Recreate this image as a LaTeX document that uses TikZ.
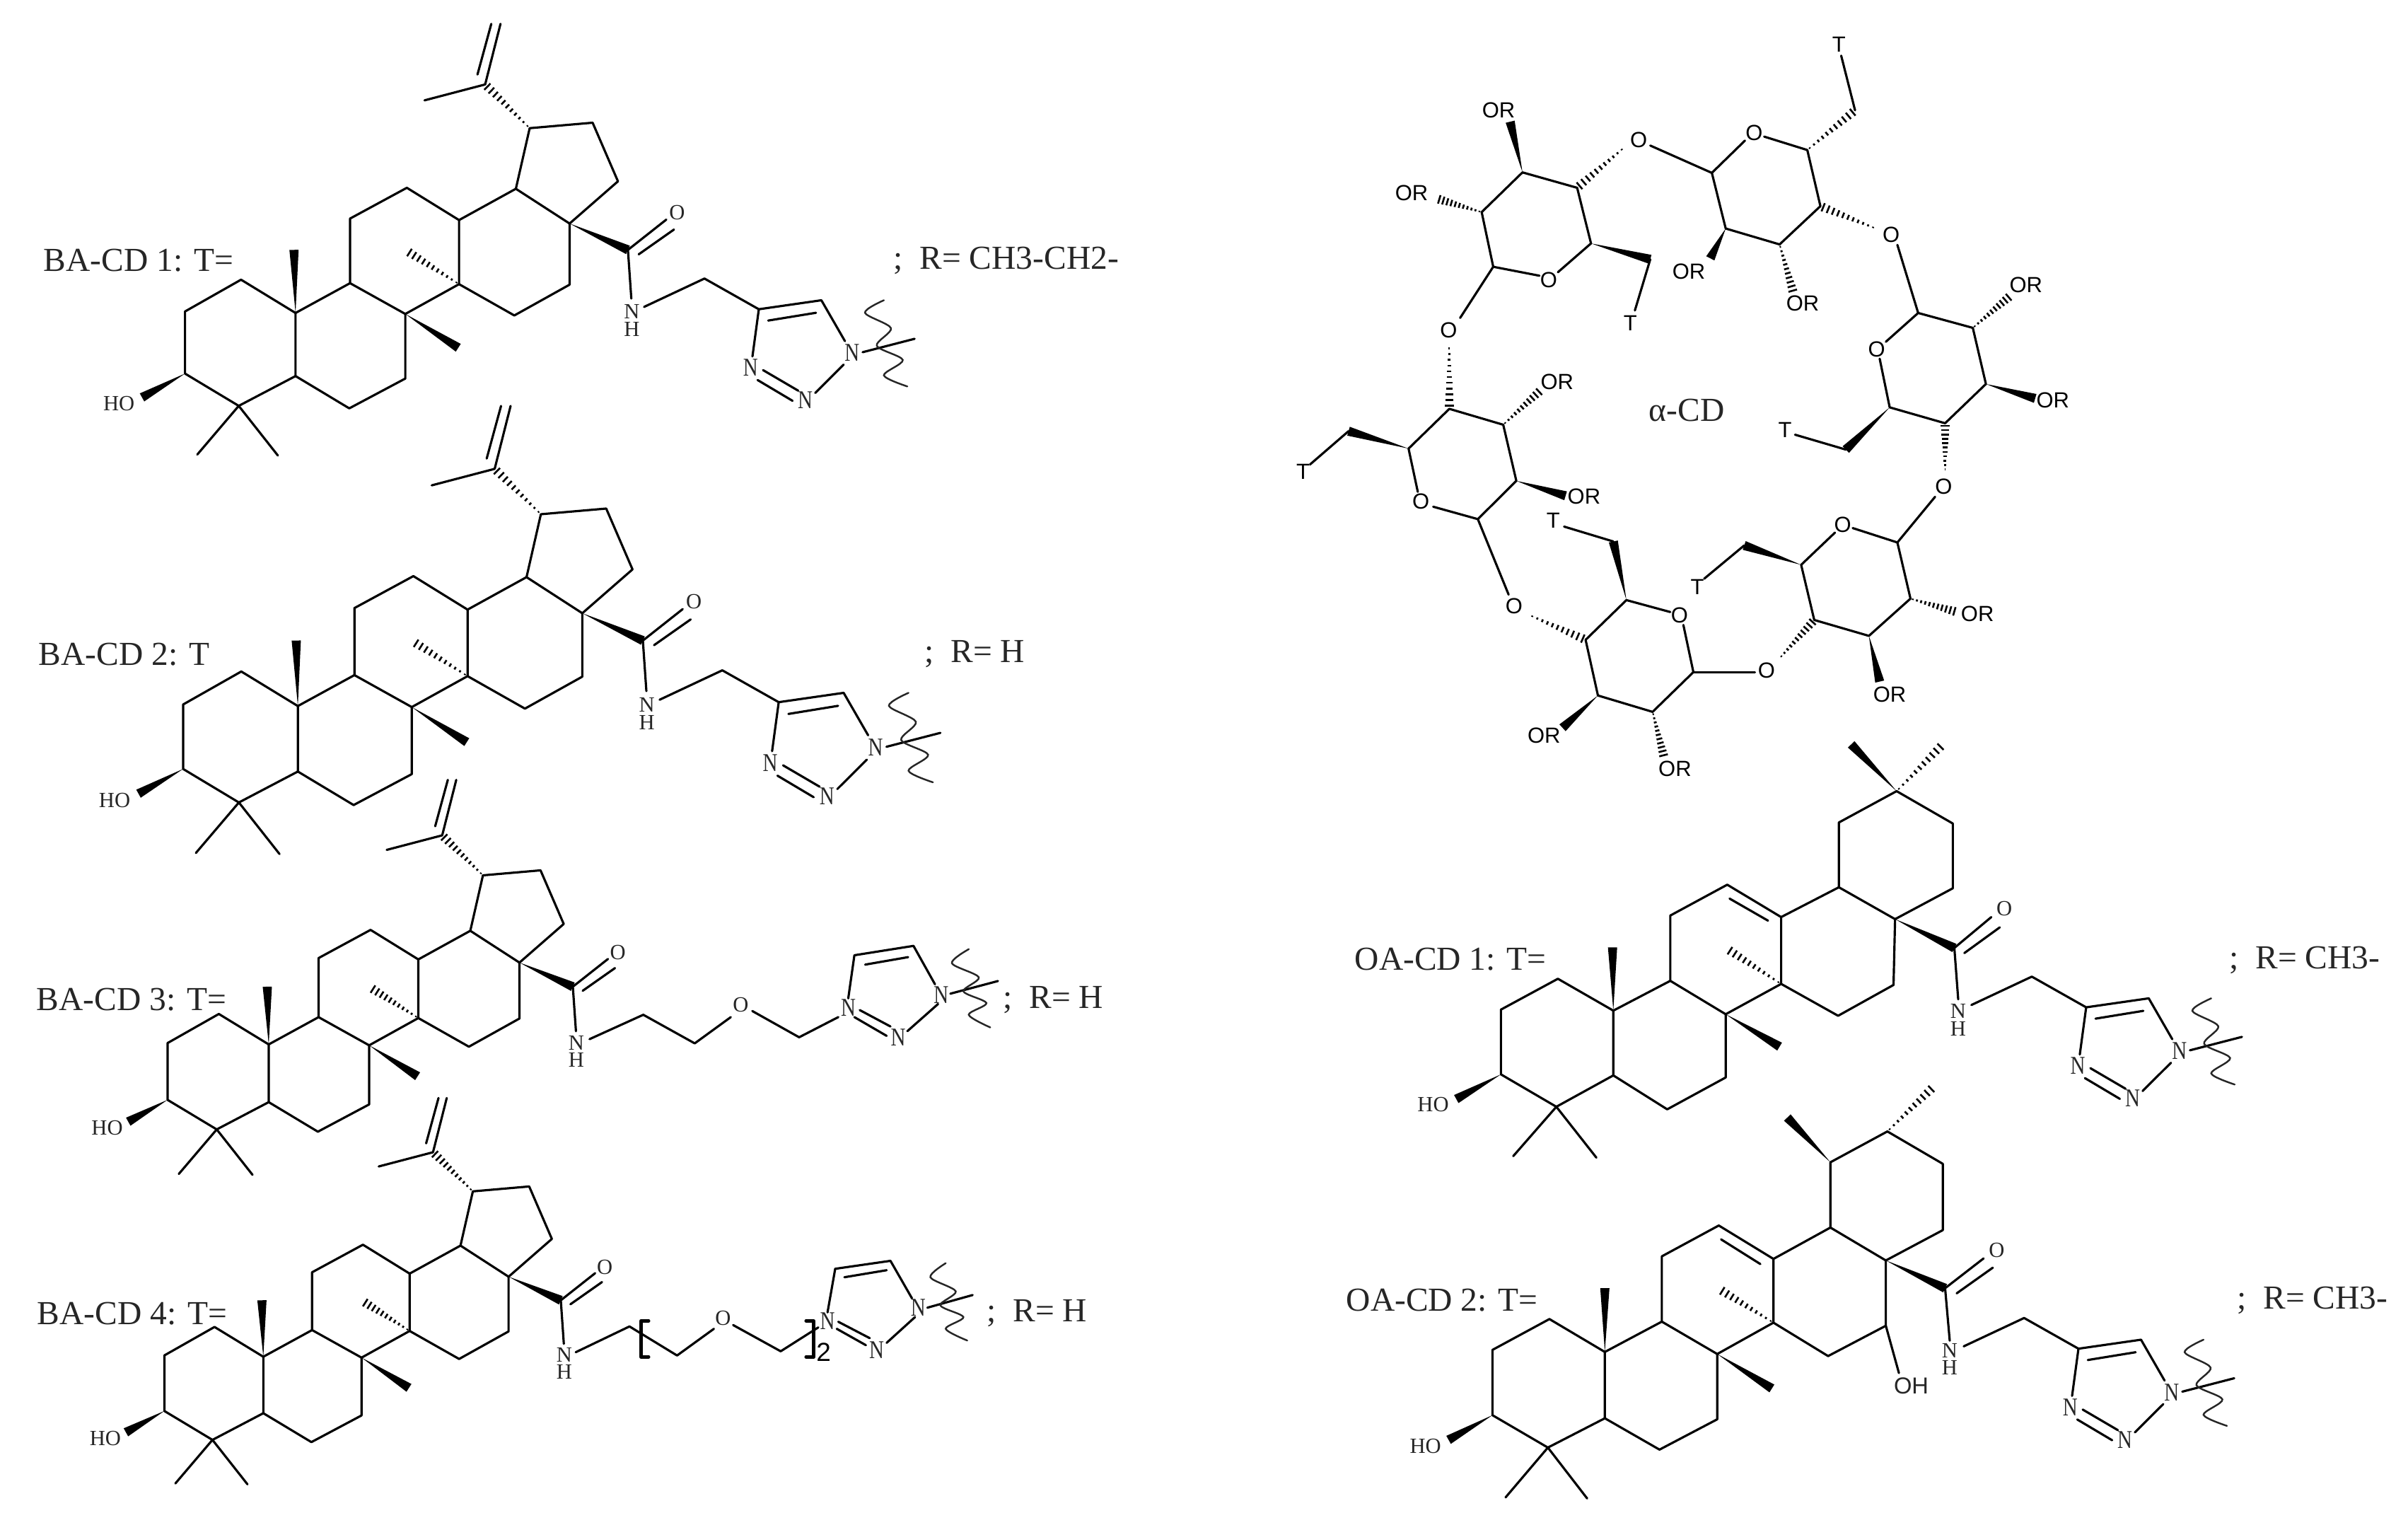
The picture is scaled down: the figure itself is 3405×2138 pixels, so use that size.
\documentclass[tikz,border=0pt]{standalone}
\usepackage{fontspec}
\usepackage{graphicx}
\setmainfont{Liberation Serif}
\newfontfamily\libsans{Liberation Sans}
\usetikzlibrary{calc}
\newcounter{nc}
\tikzset{
  bond/.style={line width=0.9pt,line cap=round,line join=round,draw=black},
  thinbond/.style={line width=0.7pt,line cap=round,draw=black!85},
  hashline/.style={line width=0.75pt,draw=black},
  atm/.style={inner sep=0pt,font=\fontsize{8.7}{6.9}\selectfont,text=black!85},
  sug/.style={inner sep=0pt,font=\libsans\fontsize{8.8}{10}\selectfont,text=black},
  lab/.style={inner sep=0pt,anchor=west,font=\fontsize{13.5}{15}\selectfont,text=black!85},
  zone/.style={x=0.010842cm,y=-0.007015cm},
  ztwo/.style={x=0.010874cm,y=-0.007015cm},
  zthree/.style={x=0.010842cm,y=-0.00662cm},
  zfour/.style={x=0.010874cm,y=-0.007258cm},
}
\def\wedgew{0.065cm}
\newcommand{\wdg}[2]{\fill[black] (#1) -- ($(#2)!\wedgew!90:(#1)$) -- ($(#2)!\wedgew!-90:(#1)$) -- cycle;}
\newcommand{\hsh}[2]{\foreach \hf in {0.05,0.14,...,0.97}{%
  \coordinate (hp) at ($(#1)!\hf!(#2)$);
  \draw[hashline] ($(hp)!{(0.1+0.9*\hf)*0.065cm}!90:(#2)$) -- ($(hp)!{(0.1+0.9*\hf)*0.065cm}!-90:(#2)$);}}
\newcommand{\atm}[2]{\stepcounter{nc}\node[atm] (at\arabic{nc}) at (#1) {#2};}
\newcommand{\nh}[1]{\stepcounter{nc}\node[atm,align=center] (at\arabic{nc}) at (#1) {N\\H};}
\newcommand{\trN}{\scalebox{0.8}[1]{\fontsize{10.3}{12}\selectfont N}}
\newcommand{\sg}[2]{\stepcounter{nc}\node[sug] (at\arabic{nc}) at (#1) {#2};}
\newcommand{\lb}[2]{\stepcounter{nc}\node[lab] (at\arabic{nc}) at (#1) {#2};}
\newcommand{\semi}{;\hspace{0.5em}}
% lupane skeleton, in the coordinates of the first crop
\newcommand{\lupane}{%
  \draw[bond] (632,170)--(652,48) (622,150)--(640,48) (632,170)--(553,202);
  \hsh{690,258}{632,170}
  \draw[bond] (690,258)--(772,247)--(805,365)--(742,450)--(672,380)--cycle;
  \draw[bond] (672,380)--(598,443)--(598,572)--(670,635)--(742,573)--(742,450);
  \draw[bond] (598,443)--(530,378)--(456,440)--(456,570)--(528,632)--(598,572);
  \draw[bond] (456,570)--(385,630)--(385,757)--(455,822)--(528,762)--(528,632);
  \draw[bond] (385,630)--(314,563)--(241,627)--(241,752)--(311,817)--(385,757);
  \draw[bond] (311,817)--(257,915) (311,817)--(362,917);
  \wdg{385,630}{383,503}
  \hsh{598,572}{530,505}
  \wdg{528,632}{597,700}
  \wdg{241,752}{185,800}
  \atm{155,813}{HO}
  \wdg{742,450}{818,503}
  \draw[bond] (818,503)--(868,442) (832,512)--(878,462) (818,503)--(822.4,601);
  \atm{882,428}{O}
  \nh{823,645}
}
% link, triazole and cut mark, in the same coordinates
\newcommand{\triaz}{%
  \draw[bond] (839,617.8)--(917.7,560.7)--(988.5,622.5)--(1070,604.4)--(1100.7,686.7);
  \draw[bond] (1000.7,645.3)--(1063,629.6) (988.5,622.5)--(980.2,717.5) (1099,734)--(1062,791);
  \draw[bond] (994,745)--(1039.8,786.4) (986.9,765)--(1032.4,806.8);
  \atm{977.7,740}{\trN}
  \atm{1049,805.5}{\trN}
  \atm{1110,710}{\trN}
  \draw[bond] (1123.7,709)--(1191.4,682);
  \draw[thinbond] plot[smooth] coordinates {(1151.4,604.4)(1126.8,629.6)(1160.6,660.5)(1142.2,696)(1176,724.6)(1151.4,755.5)(1182,777.9)};
}
\begin{document}
\begin{tikzpicture}[x=0.01cm,y=-0.01cm]
\path[use as bounding box,fill=white] (0,0) rectangle (3405,2138);
% BA-CD 1
\begin{scope}[zone]
  \lupane \triaz
\end{scope}
% BA-CD 2
\begin{scope}[shift={(-12.6,538.9)},x=1.038*0.010842cm,y=-1.038*0.007015cm]
  \lupane \triaz
\end{scope}
% BA-CD 3
\begin{scope}[shift={(-2.4,1071.7)},x=0.915*0.010842cm,y=-0.915*0.007015cm]
  \lupane
\end{scope}
\begin{scope}[shift={(0,1100)},zthree]
  \draw[bond] (768,557)--(838,505)--(905,566)--(952,510) (980,497)--(1041,553)--(1092,510);
  \atm{965,483}{O}
  \atm{1105,490}{\trN}
  \atm{1170,553}{\trN}
  \atm{1226,462}{\trN}
  \draw[bond] (1105,470)--(1113,378)--(1190,358)--(1218,440) (1127,398)--(1183,382) (1222,482)--(1182,540);
  \draw[bond] (1113,510)--(1155,550) (1120,495)--(1160,530);
  \draw[bond] (1238,460)--(1300,433);
  \draw[thinbond] plot[smooth] coordinates {(1262,365)(1240,395)(1275,425)(1255,455)(1285,480)(1262,505)(1290,532)};
\end{scope}
% BA-CD 4
\begin{scope}[shift={(-1.7,1522.1)},x=0.895*0.010842cm,y=-0.895*0.007015cm]
  \lupane
\end{scope}
\begin{scope}[shift={(0,1100)},zthree]
  \draw[bond] (750,1225)--(820,1170)--(882,1232)--(930,1175) (955,1167)--(1017,1223)--(1066,1172);
  \atm{942,1152}{O}
  \atm{1078,1158}{\trN}
  \atm{1142,1220}{\trN}
  \atm{1196,1130}{\trN}
  \draw[bond,line width=1.3pt] (845,1158)--(835,1158)--(835,1235)--(845,1235);
  \draw[bond,line width=1.3pt] (1050,1158)--(1060,1158)--(1060,1235)--(1050,1235);
  \stepcounter{nc}\node[inner sep=0pt,font=\libsans\fontsize{10.5}{12}\selectfont] (at\arabic{nc}) at (1073,1225) {2};
  \draw[bond] (1078,1140)--(1088,1047)--(1160,1030)--(1188,1110) (1100,1065)--(1155,1050) (1192,1150)--(1155,1205);
  \draw[bond] (1090,1175)--(1128,1210) (1092,1160)--(1133,1195);
  \draw[bond] (1208,1130)--(1267,1103);
  \draw[thinbond] plot[smooth] coordinates {(1232,1035)(1212,1065)(1245,1095)(1225,1125)(1255,1150)(1232,1175)(1260,1200)};
\end{scope}
% OA-CD 1
\begin{scope}[shift={(1700,1000)},zfour]
  \draw[bond] (902,163)--(975,226)--(975,352)--(900,412)--(827,350)--(827,224)--cycle;
  \wdg{902,163}{843,72}
  \hsh{902,163}{962,72}
  \draw[bond] (900,412)--(898,540)--(826,600)--(752,538)--(752,408)--(827,350);
  \draw[bond] (752,408)--(682,345)--(608,405)--(608,532)--(680,597)--(752,538) (685,372)--(735,415);
  \draw[bond] (608,532)--(534,590)--(534,716)--(604,782)--(680,720)--(680,597);
  \draw[bond] (534,590)--(462,528)--(388,588)--(388,714)--(460,777)--(534,716);
  \draw[bond] (460,777)--(404,873) (460,777)--(512,876);
  \wdg{534,590}{533,467}
  \hsh{752,538}{682,470}
  \wdg{680,597}{750,660}
  \wdg{388,714}{330,762}
  \atm{300,772}{HO}
  \wdg{900,412}{977,468}
  \draw[bond] (977,468)--(1025,408) (990,478)--(1036,428) (977,468)--(982,568);
  \atm{1042,392}{O}
  \nh{982,608}
\end{scope}
\begin{scope}[shift={(1876.9,986.9)},zone]
  \triaz
\end{scope}
% OA-CD 2
\begin{scope}[shift={(1700,1000)},zfour]
  \draw[bond] (890,825)--(962,888)--(962,1017)--(888,1076)--(816,1012)--(816,885)--cycle;
  \wdg{816,885}{760,798}
  \hsh{890,825}{950,738}
  \draw[bond] (888,1076)--(888,1203)--(813,1262)--(742,1197)--(742,1073)--(816,1012);
  \draw[bond] (742,1073)--(671,1008)--(597,1068)--(597,1195)--(669,1258)--(742,1197) (674,1035)--(725,1083);
  \draw[bond] (597,1195)--(523,1254)--(523,1383)--(594,1444)--(669,1385)--(669,1258);
  \draw[bond] (523,1254)--(451,1190)--(377,1250)--(377,1377)--(449,1440)--(523,1383);
  \draw[bond] (449,1440)--(394,1537) (449,1440)--(500,1539);
  \wdg{523,1254}{523,1130}
  \hsh{742,1197}{672,1132}
  \wdg{669,1258}{740,1325}
  \wdg{377,1377}{320,1425}
  \atm{290,1437}{HO}
  \draw[bond] (888,1203)--(905,1295);
  \stepcounter{nc}\node[sug,font=\libsans\fontsize{9.3}{10}\selectfont,text=black!85] (at\arabic{nc}) at (921,1320) {OH};
  \wdg{888,1076}{965,1130}
  \draw[bond] (965,1130)--(1015,1072) (980,1140)--(1027,1090) (965,1130)--(971,1232);
  \atm{1032,1056}{O}
  \nh{971,1268}
\end{scope}
\begin{scope}[shift={(1866,1469.5)},zone]
  \triaz
\end{scope}
% alpha-cyclodextrin
\begin{scope}[shift={(1700,0)},ztwo]
  % ring 1
  \draw[bond] (462,548)--(505,490)--(487,378)--(416,347)--(363,427)--(378,537)--(438,555);
  \sg{450,563}{O}
  \wdg{416,347}{400,245} \sg{385,222}{OR}
  \hsh{363,427}{305,400} \sg{272,388}{OR}
  \hsh{548,297}{487,378} \sg{567,282}{O}
  \draw[bond] (582,293)--(662,348);
  \wdg{505,490}{582,522}
  \draw[bond] (582,522)--(562,625); \sg{556,650}{T}
  \draw[bond] (378,537)--(335,640); \sg{320,665}{O}
  % ring 2
  \draw[bond] (705,283)--(662,348)--(680,460)--(750,492)--(803,415)--(786,302)--(730,275);
  \sg{717,267}{O}
  \hsh{786,302}{848,222}
  \draw[bond] (848,222)--(830,112); \sg{827,90}{T}
  \hsh{875,460}{803,415} \sg{895,473}{O}
  \wdg{680,460}{660,520} \sg{632,546}{OR}
  \hsh{750,492}{768,590} \sg{780,610}{OR}
  \draw[bond] (903,493)--(930,630);
  % ring 3
  \draw[bond] (888,688)--(930,630)--(1001,660)--(1018,773)--(965,852)--(893,820)--(880,722);
  \sg{876,703}{O}
  \hsh{1001,660}{1050,595} \sg{1070,573}{OR}
  \wdg{1018,773}{1082,802} \sg{1105,805}{OR}
  \wdg{893,820}{836,905}
  \draw[bond] (836,905)--(770,875); \sg{757,865}{T}
  \hsh{965,950}{965,852} \sg{963,980}{O}
  \draw[bond] (952,1000)--(903,1092);
  % ring 4
  \draw[bond] (845,1063)--(903,1092)--(920,1205)--(866,1280)--(795,1248)--(778,1137)--(822,1072);
  \sg{832,1056}{O}
  \hsh{920,1205}{980,1232} \sg{1007,1235}{OR}
  \wdg{866,1280}{880,1372} \sg{893,1398}{OR}
  \hsh{750,1325}{795,1248} \sg{733,1350}{O}
  \wdg{778,1137}{704,1098}
  \draw[bond] (704,1098)--(652,1165); \sg{643,1182}{T}
  \draw[bond] (718,1353)--(638,1353);
  % ring 5
  \draw[bond] (625,1258)--(638,1353)--(585,1433)--(514,1400)--(498,1288)--(551,1208)--(608,1232);
  \sg{620,1238}{O}
  \wdg{551,1208}{534,1090}
  \draw[bond] (534,1090)--(470,1060); \sg{456,1048}{T}
  \wdg{514,1400}{468,1465} \sg{444,1480}{OR}
  \hsh{585,1433}{600,1525} \sg{614,1548}{OR}
  \hsh{425,1238}{498,1288} \sg{405,1220}{O}
  \draw[bond] (398,1197)--(358,1045);
  % ring 6
  \draw[bond] (300,1020)--(358,1045)--(408,968)--(391,855)--(321,823)--(268,903)--(280,990);
  \sg{284,1010}{O}
  \wdg{408,968}{472,998} \sg{496,1000}{OR}
  \hsh{391,855}{440,785} \sg{461,768}{OR}
  \hsh{321,695}{321,823}
  \wdg{268,903}{190,868}
  \draw[bond] (190,868)--(140,935); \sg{131,950}{T}
\end{scope}
% labels
\lb{61,368}{BA-CD 1: T=}
\lb{1263,368}{\semi R= CH3-CH2-}
\lb{54,925}{BA-CD 2: T}
\lb{1307,925}{\semi R= H}
\lb{51,1413}{BA-CD 3: T=}
\lb{1418,1414}{\semi R= H}
\lb{52,1857}{BA-CD 4: T=}
\lb{1395,1857}{\semi R= H}
\lb{1915,1356}{OA-CD 1: T=}
\lb{3152,1357}{\semi R= CH3-}
\lb{1903,1838}{OA-CD 2: T=}
\lb{3163,1838}{\semi R= CH3-}
\stepcounter{nc}\node[lab,anchor=center] (at\arabic{nc}) at (2385,580) {α-CD};
\end{tikzpicture}
\end{document}
